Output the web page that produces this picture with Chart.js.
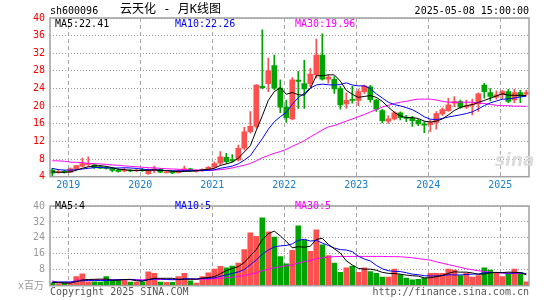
<!DOCTYPE html>
<html>
<head>
<meta charset="utf-8">
<script src="https://cdn.jsdelivr.net/npm/chart.js"></script>
<style>
body { margin: 0; background: #fff; width: 545px; height: 300px; position: relative; overflow: hidden;
       font-family: "DejaVu Sans Mono", "Noto Sans CJK SC", monospace; font-size: 10px; }
canvas { position: absolute; left: 0; }
#klineChart { top: 0; }
#volumeChart { top: 195px; }
.t { position: absolute; line-height: 12px; white-space: pre; color: #000; }
</style>
</head>
<body>
<canvas id="klineChart" width="545" height="195"></canvas>
<canvas id="volumeChart" width="545" height="105"></canvas>

<div class="t" style="left:50px;top:5px">sh600096</div>
<div class="t" style="left:120px;top:3px;font-size:12px">云天化 - 月K线图</div>
<div class="t" style="right:16px;top:5px">2025-05-08 15:00:00</div>
<div class="t" style="left:55px;top:18px">MA5:22.41</div>
<div class="t" style="left:175px;top:18px;color:#0000ff">MA10:22.26</div>
<div class="t" style="left:295px;top:18px;color:#ff00ff">MA30:19.96</div>
<div class="t" style="left:495px;top:150px;font:italic bold 17px 'DejaVu Sans';color:#dcdcdc">sina</div>
<div class="t" style="left:55px;top:200px">MA5:4</div>
<div class="t" style="left:175px;top:200px;color:#0000ff">MA10:5</div>
<div class="t" style="left:295px;top:200px;color:#ff00ff">MA30:5</div>
<div class="t" style="left:18px;top:280px;color:#999">x百万</div>
<div class="t" style="left:50px;top:286px;color:#555">Copyright 2025 SINA.COM</div>
<div class="t" style="right:16px;top:286px;color:#555">http://finance.sina.com.cn</div>

<script>
// Monthly candles, 2018-10 .. 2025-05 (index 0 = 2018-10)
const yearLabels = ['2019', '2020', '2021', '2022', '2023', '2024', '2025'];

const open = [5.5, 4.95, 5.2, 5.0, 5.8, 6.4, 6.8, 6.7, 6.3, 6.1,
    5.9, 5.5, 5.3, 5.5, 5.3, 5.5, 4.7, 5.5, 5.7, 4.9,
    5.15, 4.9, 5.3, 5.8, 5.2, 5.35, 5.6, 6.2, 7.05, 8.4,
    7.9, 7.8, 10.45, 14.2, 15.4, 24.5, 25.1, 29.2, 24.1, 19.8,
    17.1, 25.9, 25.1, 25.1, 27.1, 31.6, 26.1, 26.1, 24.0, 20.5,
    21.5, 21.3, 23.3, 24.4, 21.4, 19.0, 16.6, 17.1, 18.5, 17.5,
    17.3, 16.8, 15.9, 15.8, 16.3, 18.25, 19.0, 20.7, 21.05, 19.8,
    20.2, 20.5, 24.8, 23.1, 22.05, 22.6, 23.3, 21.4, 23.1, 22.7];
const high = [5.9, 5.6, 5.5, 6.0, 6.6, 8.2, 8.5, 6.9, 6.5, 6.3,
    6.0, 5.8, 5.9, 5.6, 5.8, 5.9, 5.8, 6.4, 5.9, 5.3,
    5.3, 5.6, 6.4, 5.9, 5.6, 5.8, 6.3, 7.4, 9.7, 9.3,
    9.0, 11.2, 15.2, 18.8, 24.9, 37.3, 30.9, 31.6, 26.0, 21.4,
    26.5, 27.9, 30.4, 28.6, 35.2, 36.4, 27.1, 26.7, 24.5, 23.0,
    24.5, 23.9, 24.8, 24.7, 21.6, 19.3, 17.8, 18.8, 18.7, 17.9,
    17.7, 17.0, 16.5, 16.9, 18.8, 19.6, 21.8, 22.2, 21.4, 21.4,
    21.6, 23.0, 25.2, 24.0, 23.5, 23.6, 23.8, 23.8, 23.6, 23.6];
const low = [4.0, 4.8, 4.8, 4.9, 5.7, 6.2, 6.3, 5.9, 5.8, 5.7,
    5.1, 5.0, 5.1, 5.1, 5.2, 5.2, 4.5, 4.9, 4.9, 4.8,
    4.7, 4.8, 5.15, 5.2, 5.0, 5.2, 5.5, 5.9, 6.7, 7.0,
    7.3, 7.5, 10.1, 13.9, 15.0, 23.9, 23.3, 23.7, 18.5, 16.3,
    16.9, 19.5, 19.5, 24.4, 26.4, 25.9, 25.2, 22.9, 19.3, 19.5,
    20.7, 20.1, 22.9, 20.9, 18.8, 16.2, 16.1, 16.9, 16.9, 16.5,
    15.4, 15.6, 14.0, 14.2, 14.8, 17.9, 18.8, 19.9, 19.5, 19.5,
    18.0, 18.8, 21.8, 21.2, 21.6, 21.7, 20.8, 20.8, 20.8, 22.5];
const close = [4.8, 5.1, 5.0, 5.8, 6.5, 7.0, 6.9, 6.1, 5.95, 5.9,
    5.4, 5.2, 5.5, 5.3, 5.5, 5.4, 5.6, 5.8, 5.0, 5.1,
    4.85, 5.3, 5.8, 5.3, 5.4, 5.65, 6.1, 7.0, 8.5, 7.4,
    7.6, 10.45, 14.2, 15.4, 24.8, 24.2, 28.0, 24.1, 19.8, 17.4,
    26.0, 25.6, 23.9, 27.3, 31.6, 26.1, 26.6, 23.9, 20.3, 21.3,
    21.3, 23.3, 24.6, 21.5, 19.3, 16.7, 17.1, 18.5, 17.4, 17.2,
    16.7, 16.0, 15.7, 16.3, 18.3, 19.2, 20.3, 21.05, 19.8, 20.1,
    20.5, 22.8, 23.3, 22.2, 22.6, 23.3, 21.05, 23.1, 22.2, 23.1];

const ma5 = [5.1, 5.0, 5.0, 5.1, 5.45, 5.9, 6.25, 6.45, 6.5, 6.35,
    6.05, 5.7, 5.6, 5.45, 5.4, 5.4, 5.45, 5.5, 5.45, 5.4,
    5.25, 5.2, 5.2, 5.25, 5.35, 5.55, 5.65, 5.9, 6.55, 6.9,
    7.3, 8.2, 9.6, 11.0, 14.5, 17.8, 21.3, 23.3, 24.2, 22.7,
    23.1, 22.6, 22.5, 24.0, 26.9, 26.9, 27.1, 27.1, 25.7, 23.6,
    22.7, 22.0, 22.2, 22.4, 22.0, 21.1, 19.8, 18.6, 17.8, 17.4,
    17.4, 17.2, 16.6, 16.4, 16.6, 17.1, 18.0, 19.0, 19.7, 20.1,
    20.35, 20.85, 21.3, 21.8, 22.3, 22.8, 22.5, 22.45, 22.45, 22.41];
const ma10 = [5.9, 5.6, 5.5, 5.5, 5.6, 5.75, 5.9, 6.05, 6.1, 6.0,
    5.97, 5.98, 6.03, 5.98, 5.88, 5.72, 5.59, 5.56, 5.47, 5.39,
    5.33, 5.34, 5.37, 5.37, 5.36, 5.39, 5.44, 5.56, 5.91, 6.14,
    6.41, 6.93, 7.76, 8.77, 10.7, 12.6, 14.75, 16.46, 17.6, 18.6,
    20.4, 21.95, 22.9, 24.1, 24.8, 25.0, 24.85, 24.8, 24.9, 25.3,
    24.8, 24.6, 24.6, 24.0, 22.8, 21.85, 20.9, 20.36, 20.07, 19.66,
    19.2, 18.47, 17.58, 17.06, 16.96, 17.21, 17.53, 17.79, 18.03, 18.32,
    18.7, 19.38, 20.14, 20.73, 21.16, 21.57, 21.65, 21.85, 22.09, 22.26];
const ma30 = [7.6, 7.6, 7.5, 7.3, 7.25, 7.2, 7.0, 6.95, 6.9, 6.8,
    6.65, 6.6, 6.45, 6.35, 6.25, 6.15, 6.05, 6.0, 5.9, 5.8,
    5.75, 5.7, 5.6, 5.55, 5.5, 5.45, 5.45, 5.5, 5.6, 5.75,
    6.0, 6.3, 6.6, 7.0, 7.6, 8.3, 8.8, 9.3, 9.7, 10.2,
    10.9, 11.5, 12.2, 13.0, 13.8, 14.6, 15.3, 15.6, 16.1, 16.6,
    17.1, 17.6, 18.1, 18.7, 19.2, 19.8, 20.2, 20.6, 20.9, 21.1,
    21.4, 21.6, 21.6, 21.6, 21.4, 21.1, 20.9, 20.9, 20.9, 20.9,
    20.9, 20.7, 20.6, 20.4, 20.2, 20.1, 20.1, 20.0, 20.0, 19.96];

// Volume, in millions
const volume = [1.4, 1.0, 1.4, 1.4, 4.6, 6.0, 2.0, 1.9, 1.8, 4.6,
    3.2, 2.7, 3.0, 1.8, 1.8, 1.8, 7.0, 6.2, 1.8, 1.7,
    1.7, 4.6, 6.2, 2.4, 1.3, 4.6, 6.4, 8.3, 9.7, 9.0,
    9.8, 11.4, 18.1, 26.5, 24.8, 34.1, 27.0, 24.4, 14.6, 11.0,
    17.8, 30.0, 22.9, 17.3, 28.1, 20.5, 15.1, 11.4, 6.7, 9.0,
    9.9, 6.7, 9.0, 7.1, 6.2, 4.3, 4.3, 8.4, 5.6, 3.8,
    3.0, 3.2, 3.8, 6.2, 6.2, 6.2, 8.4, 7.9, 5.1, 6.2,
    4.3, 5.1, 9.0, 7.8, 6.7, 4.6, 5.9, 8.4, 6.7, 1.9];
const vma5 = [1.6, 1.5, 1.4, 1.3, 2.0, 2.9, 3.1, 3.2, 3.3, 3.3,
    2.7, 2.8, 3.1, 3.1, 2.5, 2.2, 3.1, 3.7, 3.7, 3.7,
    3.7, 3.2, 3.2, 3.3, 3.2, 3.8, 4.1, 4.5, 6.0, 7.6,
    8.6, 9.6, 11.6, 15.0, 18.1, 23.0, 26.1, 27.4, 25.0, 22.2,
    19.0, 19.6, 19.3, 19.8, 23.2, 23.8, 20.8, 18.5, 16.4, 12.5,
    10.4, 8.7, 8.3, 8.3, 7.8, 6.7, 6.2, 6.1, 5.8, 5.3,
    5.0, 4.8, 3.9, 4.0, 4.5, 5.1, 6.2, 7.0, 6.8, 6.8,
    6.4, 5.7, 5.9, 6.5, 6.6, 6.6, 6.8, 6.7, 6.5, 5.5];
const vma10 = [1.9, 1.9, 1.9, 1.9, 2.2, 2.5, 2.6, 2.6, 2.6, 2.6,
    2.8, 3.0, 3.1, 3.2, 2.9, 2.5, 3.0, 3.4, 3.4, 3.1,
    3.0, 3.1, 3.5, 3.5, 3.4, 3.7, 3.7, 3.9, 4.7, 5.4,
    6.2, 6.9, 8.1, 10.5, 12.9, 15.8, 17.9, 19.5, 20.0, 20.2,
    21.0, 22.8, 23.3, 22.4, 22.7, 21.4, 20.2, 18.9, 18.1, 17.9,
    17.1, 14.8, 13.4, 12.4, 10.2, 8.5, 7.5, 7.2, 7.1, 6.5,
    5.8, 5.5, 5.0, 4.9, 4.9, 5.1, 5.5, 5.4, 5.4, 5.6,
    5.8, 5.9, 6.5, 6.6, 6.7, 6.5, 6.3, 6.3, 6.5, 6.0];
const vma30 = [2.4, 1.6, 1.6, 1.6, 2.8, 2.9, 3.0, 3.0, 3.0, 3.0,
    3.0, 3.0, 3.0, 3.0, 3.0, 3.0, 3.1, 3.1, 3.1, 3.1,
    3.1, 3.1, 3.2, 3.2, 3.2, 3.2, 3.3, 3.5, 3.7, 4.0,
    4.3, 4.6, 5.1, 5.8, 6.5, 7.5, 8.3, 9.0, 9.5, 10.0,
    10.5, 11.4, 12.1, 12.6, 13.5, 14.0, 14.4, 14.6, 14.7, 14.7,
    14.7, 14.7, 14.7, 14.7, 14.7, 14.7, 14.6, 14.6, 14.5, 14.3,
    14.0, 13.6, 13.2, 12.8, 12.0, 11.3, 10.6, 9.9, 9.2, 8.5,
    8.0, 7.5, 7.1, 6.8, 6.5, 6.3, 6.2, 6.2, 6.1, 6.0];

Chart.defaults.font.family = '"DejaVu Sans Mono", monospace';
Chart.defaults.font.size = 10;
Chart.defaults.animation = false;

const UP = '#ff5050';
const DOWN = '#00a400';
const candleColors = close.map((c, i) => c >= open[i] ? UP : DOWN);

// year gridlines sit just left of each January candle
const yearTicks = yearLabels.map((_, k) => 3 + 12 * k - 1 / 3);

// grey frame round the plot area
const framePlugin = {
    id: 'frame',
    afterDatasetsDraw(chart) {
        const { ctx, chartArea: a } = chart;
        ctx.save();
        ctx.strokeStyle = '#a0a0a0';
        ctx.lineWidth = 1.5;
        ctx.strokeRect(a.left, a.top, a.right - a.left, a.bottom - a.top);
        ctx.restore();
    }
};

function xAxis(showLabels, height) {
    return {
        type: 'linear',
        min: -0.38,
        max: 79.45,
        offset: false,
        afterBuildTicks: s => { s.ticks = yearTicks.map(v => ({ value: v })); },
        afterFit: s => { s.height = height; },
        ticks: {
            display: showLabels,
            color: '#1a7fcf',
            padding: 3,
            autoSkip: false,
            maxRotation: 0,
            callback: (v, i) => yearLabels[i]
        },
        grid: { color: '#aaa', drawTicks: false, offset: false },
        border: { display: false, dash: [4, 3] }
    };
}

function maLine(values, color) {
    return {
        type: 'line',
        order: 0,
        data: values.map((v, i) => ({ x: i, y: v })),
        borderColor: color,
        borderWidth: 1,
        pointRadius: 0,
        tension: 0,
        fill: false
    };
}

// Price candles
const ctx1 = document.getElementById('klineChart').getContext('2d');
new Chart(ctx1, {
    type: 'bar',
    data: {
        datasets: [
            maLine(ma5, '#000000'),
            maLine(ma10, '#0000ff'),
            maLine(ma30, '#ff00ff'),
            {
                type: 'bar',
                order: 1,
                data: open.map((o, i) => ({ x: i, y: [o, close[i]] })),
                backgroundColor: candleColors,
                barThickness: 5,
                minBarLength: 1,
                grouped: false
            },
            {
                type: 'bar',
                order: 2,
                data: high.map((h, i) => ({ x: i, y: [low[i], h] })),
                backgroundColor: candleColors,
                barThickness: 1,
                grouped: false
            }
        ]
    },
    options: {
        responsive: false,
        events: [],
        layout: { padding: { top: 18, right: 16, left: 0, bottom: 0 } },
        plugins: { legend: { display: false }, tooltip: { enabled: false } },
        scales: {
            x: xAxis(true, 18.3),
            y: {
                min: 4,
                max: 40,
                afterFit: s => { s.width = 50; },
                ticks: { stepSize: 4, color: '#ff0000', padding: 5 },
                grid: { color: '#999', drawTicks: false },
                border: { display: false, dash: [1, 2] }
            }
        }
    },
    plugins: [framePlugin]
});

// Volume
const ctx2 = document.getElementById('volumeChart').getContext('2d');
new Chart(ctx2, {
    type: 'bar',
    data: {
        datasets: [
            maLine(vma5, '#000000'),
            maLine(vma10, '#0000ff'),
            maLine(vma30, '#ff00ff'),
            {
                type: 'bar',
                order: 1,
                data: volume.map((v, i) => ({ x: i, y: v })),
                backgroundColor: candleColors,
                barThickness: 5,
                grouped: false
            }
        ]
    },
    options: {
        responsive: false,
        events: [],
        layout: { padding: { top: 6.7, right: 16, left: 0, bottom: 0 } },
        plugins: { legend: { display: false }, tooltip: { enabled: false } },
        scales: {
            x: xAxis(false, 14.3),
            y: {
                min: 0,
                max: 40,
                afterFit: s => { s.width = 50; },
                ticks: { stepSize: 8, color: '#999', padding: 5, callback: v => v === 0 ? '' : v },
                grid: { color: '#999', drawTicks: false },
                border: { display: false, dash: [1, 2] }
            }
        }
    },
    plugins: [framePlugin]
});
</script>
</body>
</html>
